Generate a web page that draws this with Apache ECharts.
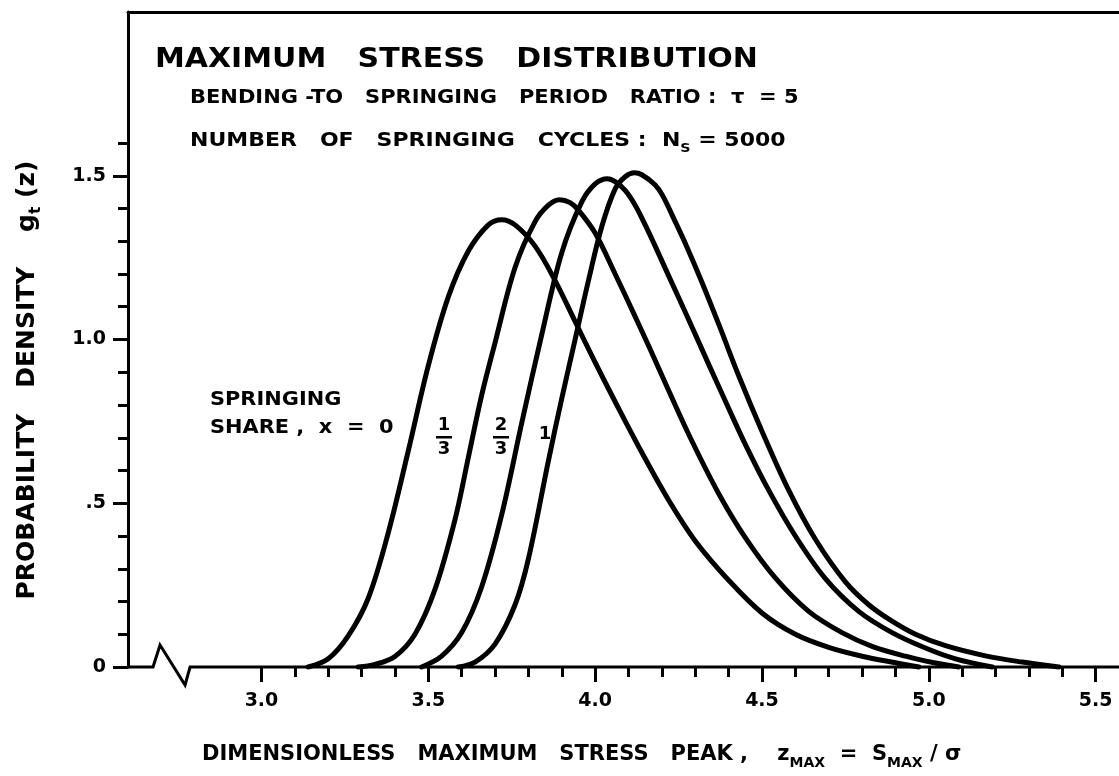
<!DOCTYPE html>
<html>
<head>
<meta charset="utf-8">
<title>Maximum stress distribution</title>
<script src="https://cdn.jsdelivr.net/npm/echarts@6/dist/echarts.min.js"></script>
<style>
  html, body { margin: 0; padding: 0; background: #fff; }
  #chart { width: 1119px; height: 776px; }
</style>
</head>
<body>
<div id="chart"></div>
<script>
// springing share x = 0
var share0X = [3.14, 3.20, 3.26, 3.32, 3.38, 3.44, 3.50, 3.56, 3.62, 3.68, 3.72, 3.76, 3.82, 3.88, 3.94, 4.00, 4.06, 4.14, 4.22, 4.30, 4.40, 4.50, 4.60, 4.70, 4.80, 4.90, 4.97];
var share0Y = [0.0, 0.025, 0.095, 0.21, 0.41, 0.66, 0.92, 1.13, 1.27, 1.35, 1.366, 1.35, 1.285, 1.18, 1.055, 0.93, 0.81, 0.655, 0.51, 0.385, 0.265, 0.165, 0.10, 0.06, 0.033, 0.013, 0.0];
// x = 1/3
var share13X = [3.29, 3.34, 3.40, 3.46, 3.52, 3.58, 3.62, 3.66, 3.70, 3.76, 3.82, 3.86, 3.893, 3.925, 3.95, 4.00, 4.06, 4.12, 4.165, 4.22, 4.29, 4.37, 4.45, 4.54, 4.64, 4.74, 4.83, 4.93, 5.02, 5.09];
var share13Y = [0.0, 0.008, 0.032, 0.10, 0.237, 0.45, 0.64, 0.83, 0.99, 1.22, 1.36, 1.41, 1.427, 1.418, 1.395, 1.325, 1.20, 1.07, 0.97, 0.845, 0.69, 0.53, 0.395, 0.272, 0.17, 0.105, 0.063, 0.033, 0.012, 0.0];
// x = 2/3
var share23X = [3.48, 3.54, 3.60, 3.66, 3.72, 3.78, 3.84, 3.90, 3.96, 4.00, 4.037, 4.06, 4.09, 4.12, 4.15, 4.18, 4.22, 4.274, 4.343, 4.40, 4.45, 4.52, 4.60, 4.69, 4.79, 4.89, 4.99, 5.08, 5.19];
var share23Y = [0.0, 0.033, 0.105, 0.245, 0.465, 0.745, 1.015, 1.265, 1.42, 1.475, 1.491, 1.482, 1.455, 1.41, 1.35, 1.285, 1.195, 1.075, 0.918, 0.79, 0.68, 0.54, 0.40, 0.27, 0.17, 0.105, 0.058, 0.025, 0.0];
// x = 1
var share1X = [3.59, 3.64, 3.70, 3.76, 3.80, 3.86, 3.90, 3.94, 3.98, 4.02, 4.06, 4.09, 4.118, 4.14, 4.18, 4.202, 4.24, 4.274, 4.32, 4.373, 4.43, 4.50, 4.58, 4.66, 4.75, 4.82, 4.885, 4.96, 5.05, 5.17, 5.28, 5.39];
var share1Y = [0.0, 0.015, 0.07, 0.19, 0.33, 0.63, 0.82, 1.0, 1.18, 1.345, 1.46, 1.497, 1.509, 1.503, 1.472, 1.44, 1.36, 1.285, 1.175, 1.04, 0.89, 0.72, 0.54, 0.39, 0.26, 0.19, 0.143, 0.10, 0.065, 0.034, 0.015, 0.0];

// broken x axis line (axis break zigzag near the origin)
var baseLineX = [2.6, 2.675, 2.696, 2.771, 2.786, 5.57];
var baseLineY = [0, 0, 0.067, -0.055, 0, 0];

var xMajorTicks = [3.0, 3.5, 4.0, 4.5, 5.0, 5.5];
var xTickLabels = ['3.0', '3.5', '4.0', '4.5', '5.0', '5.5'];
var xMinorTicks = [3.1, 3.2, 3.3, 3.4, 3.6, 3.7, 3.8, 3.9, 4.1, 4.2, 4.3, 4.4, 4.6, 4.7, 4.8, 4.9, 5.1, 5.2, 5.3, 5.4];
var yMajorTicks = [0, 0.5, 1.0, 1.5];
var yTickLabels = ['0', '.5', '1.0', '1.5'];
var yMinorTicks = [0.1, 0.2, 0.3, 0.4, 0.6, 0.7, 0.8, 0.9, 1.1, 1.2, 1.3, 1.4, 1.6];

var FONT = "'DejaVu Sans', sans-serif";

function pairs(xs, ys) {
  return xs.map(function (x, i) { return [x, ys[i]]; });
}
function tickLabel(ticks, labels) {
  return function (v) {
    for (var i = 0; i < ticks.length; i++) {
      if (Math.abs(ticks[i] - v) < 1e-6) return labels[i];
    }
    return '';
  };
}
function curve(name, xs, ys) {
  return {
    name: name,
    type: 'line',
    data: pairs(xs, ys),
    smooth: 0.35,
    symbol: 'none',
    clip: false,
    z: 3,
    lineStyle: { color: '#000', width: 5, cap: 'round', join: 'round' }
  };
}
function label(text, x, y, size, extra, sx) {
  var el = {
    type: 'text',
    x: x,
    y: y,
    z: 10,
    scaleX: sx || 1,
    style: {
      text: text,
      fill: '#000',
      font: 'bold ' + size + 'px ' + FONT,
      align: 'left',
      verticalAlign: 'middle'
    }
  };
  if (extra) {
    for (var k in extra) el.style[k] = extra[k];
  }
  return el;
}
function rich(size, subSize, lh) {
  return {
    a: { fontSize: size, fontWeight: 'bold', fontFamily: FONT, color: '#000', lineHeight: lh },
    s: { fontSize: subSize, fontWeight: 'bold', fontFamily: FONT, color: '#000', lineHeight: lh, verticalAlign: 'bottom', padding: [0, 0, 1, 0] }
  };
}

var chartDom = document.getElementById('chart');
var myChart = echarts.init(chartDom);
var option;

option = {
  animation: false,
  backgroundColor: '#fff',
  grid: {
    left: 128,
    right: 0,
    top: 12,
    bottom: 109,
    outerBoundsMode: 'none'
  },
  xAxis: [
    {
      type: 'value',
      min: 2.6,
      max: 5.57,
      position: 'bottom',
      axisLine: { show: false },
      axisTick: {
        show: true,
        customValues: xMajorTicks,
        length: 15,
        lineStyle: { color: '#000', width: 3 }
      },
      axisLabel: {
        customValues: xMajorTicks,
        formatter: tickLabel(xMajorTicks, xTickLabels),
        margin: 25,
        fontSize: 19,
        fontWeight: 'bold',
        fontFamily: FONT,
        color: '#000'
      },
      splitLine: { show: false }
    },
    {
      type: 'value',
      min: 2.6,
      max: 5.57,
      position: 'bottom',
      axisLine: { show: false },
      axisTick: {
        show: true,
        customValues: xMinorTicks,
        length: 10,
        lineStyle: { color: '#000', width: 3 }
      },
      axisLabel: { show: false },
      splitLine: { show: false }
    },
    {
      // top frame line
      type: 'value',
      min: 2.6,
      max: 5.57,
      position: 'top',
      axisLine: { show: true, lineStyle: { color: '#000', width: 3 } },
      axisTick: { show: false },
      axisLabel: { show: false },
      splitLine: { show: false }
    }
  ],
  yAxis: [
    {
      type: 'value',
      min: 0,
      max: 2.0,
      position: 'left',
      axisLine: { show: true, lineStyle: { color: '#000', width: 3 } },
      axisTick: {
        show: true,
        customValues: yMajorTicks,
        length: 15,
        lineStyle: { color: '#000', width: 3 }
      },
      axisLabel: {
        customValues: yMajorTicks,
        formatter: tickLabel(yMajorTicks, yTickLabels),
        margin: 22,
        fontSize: 19,
        fontWeight: 'bold',
        fontFamily: FONT,
        color: '#000'
      },
      splitLine: { show: false }
    },
    {
      type: 'value',
      min: 0,
      max: 2.0,
      position: 'left',
      axisLine: { show: false },
      axisTick: {
        show: true,
        customValues: yMinorTicks,
        length: 10,
        lineStyle: { color: '#000', width: 3 }
      },
      axisLabel: { show: false },
      splitLine: { show: false }
    }
  ],
  graphic: [
    label('MAXIMUM   STRESS   DISTRIBUTION', 155, 60, 27, null, 1.11),
    {
      type: 'text', x: 190, y: 98, z: 10, scaleX: 1.05,
      style: { text: '{a|BENDING -TO   SPRINGING   PERIOD   RATIO :  τ  = 5}', rich: rich(20, 13, 30), verticalAlign: 'middle' }
    },
    {
      type: 'text', x: 190, y: 141, z: 10, scaleX: 1.1,
      style: { text: '{a|NUMBER   OF   SPRINGING   CYCLES :  N}{s|S}{a| = 5000}', rich: rich(20, 13, 30), verticalAlign: 'middle' }
    },
    {
      type: 'text', x: 28, y: 380, z: 10, rotation: Math.PI / 2, scaleX: 1.04,
      style: { text: '{a|PROBABILITY   DENSITY    g}{s|t}{a| (z)}', rich: rich(24, 15, 34), align: 'center', verticalAlign: 'middle' }
    },
    {
      type: 'text', x: 202, y: 755, z: 10,
      style: { text: '{a|DIMENSIONLESS   MAXIMUM   STRESS   PEAK ,    z}{s|MAX}{a|  =  S}{s|MAX}{a| / σ}', rich: rich(21, 14, 32), verticalAlign: 'middle' }
    },
    label('SPRINGING', 210, 400, 19, null, 1.1),
    label('SHARE ,  x  =  0', 210, 428, 19, null, 1.1),
    label('1', 444, 425, 18, { align: 'center' }),
    { type: 'rect', shape: { x: 436, y: 436, width: 16, height: 2.5 }, style: { fill: '#000' }, z: 10 },
    label('3', 444, 449, 18, { align: 'center' }),
    label('2', 501, 425, 18, { align: 'center' }),
    { type: 'rect', shape: { x: 493, y: 436, width: 16, height: 2.5 }, style: { fill: '#000' }, z: 10 },
    label('3', 501, 449, 18, { align: 'center' }),
    label('1', 545, 434, 18, { align: 'center' })
  ],
  series: [
    {
      name: 'axis',
      type: 'line',
      data: pairs(baseLineX, baseLineY),
      symbol: 'none',
      clip: false,
      z: 2,
      lineStyle: { color: '#000', width: 3, join: 'miter' }
    },
    curve('x = 0', share0X, share0Y),
    curve('x = 1/3', share13X, share13Y),
    curve('x = 2/3', share23X, share23Y),
    curve('x = 1', share1X, share1Y)
  ]
};

option && myChart.setOption(option);
</script>
</body>
</html>
